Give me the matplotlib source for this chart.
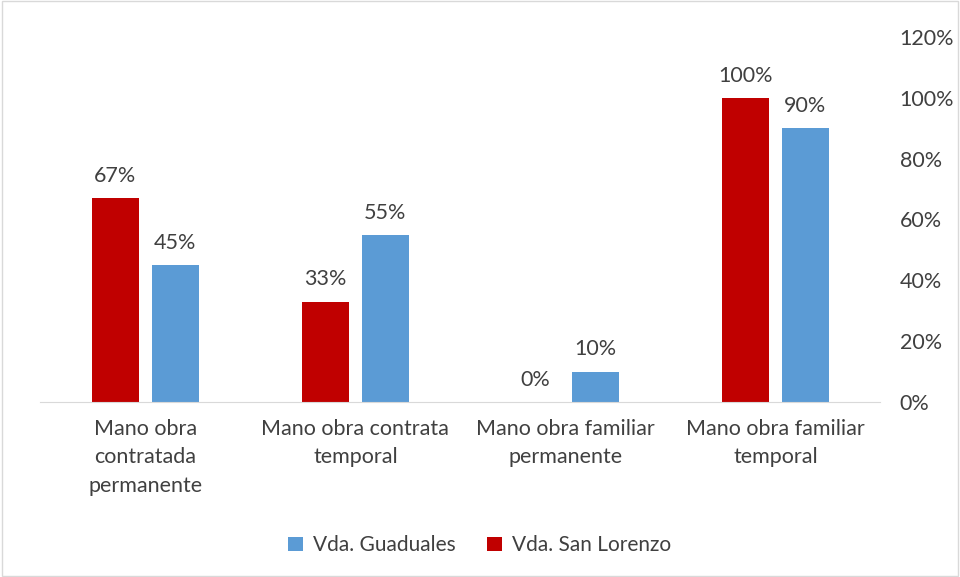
import numpy as np
import matplotlib.pyplot as plt
from matplotlib.patches import Rectangle

categorias = ["Mano obra\ncontratada\npermanente", "Mano obra contrata\ntemporal",
              "Mano obra familiar\npermanente", "Mano obra familiar\ntemporal"]
san_lorenzo = [0.67, 0.33, 0.0, 1.00]
guaduales = [0.45, 0.55, 0.10, 0.90]
etiquetas_y = ["0%", "20%", "40%", "60%", "80%", "100%", "120%"]

rojo = "#C00000"
azul = "#5B9BD5"
plt.rcParams['font.family'] = ['Lato', 'DejaVu Sans']

fig = plt.figure(figsize=(9.6, 5.77), dpi=100)
fig.patches.append(Rectangle((0.002, 0.002), 0.996, 0.996, transform=fig.transFigure,
                             fill=False, edgecolor="#D9D9D9", linewidth=1))
ax = fig.add_axes([0.042, 0.3033, 0.875, 0.6326])

x = np.arange(len(categorias))
w = 0.224
b1 = ax.bar(x - 0.143, san_lorenzo, w, color=rojo, label="Vda. San Lorenzo")
b2 = ax.bar(x + 0.143, guaduales, w, color=azul, label="Vda. Guaduales")

for bars, vals in [(b1, san_lorenzo), (b2, guaduales)]:
    for r, v in zip(bars, vals):
        ax.text(r.get_x() + r.get_width() / 2, v + 0.04, f"{v*100:.0f}%",
                ha="center", va="bottom", fontsize=15.5, color="#404040")

ax.set_xlim(-0.5, 3.5)
ax.set_ylim(0, 1.2)
ax.set_xticks(x)
ax.set_xticklabels(categorias, fontsize=15.5, color="#404040", linespacing=1.55, va="top")
ax.tick_params(axis="x", length=0, pad=12)
ax.yaxis.tick_right()
ax.set_yticks(np.arange(0, 1.21, 0.2))
ax.set_yticklabels(etiquetas_y, fontsize=15.5, color="#404040")
ax.tick_params(axis="y", length=0, pad=14)
for s in ["top", "left", "right"]:
    ax.spines[s].set_visible(False)
ax.spines["bottom"].set_color("#D9D9D9")

h, l = ax.get_legend_handles_labels()
fig.legend([h[1], h[0]], [l[1], l[0]], loc="center", bbox_to_anchor=(0.5, 0.055),
           ncol=2, frameon=False, fontsize=15, handlelength=0.7, handleheight=0.7,
           columnspacing=1.5, handletextpad=0.5, labelcolor="#404040")

fig.savefig("out.png", dpi=100)
